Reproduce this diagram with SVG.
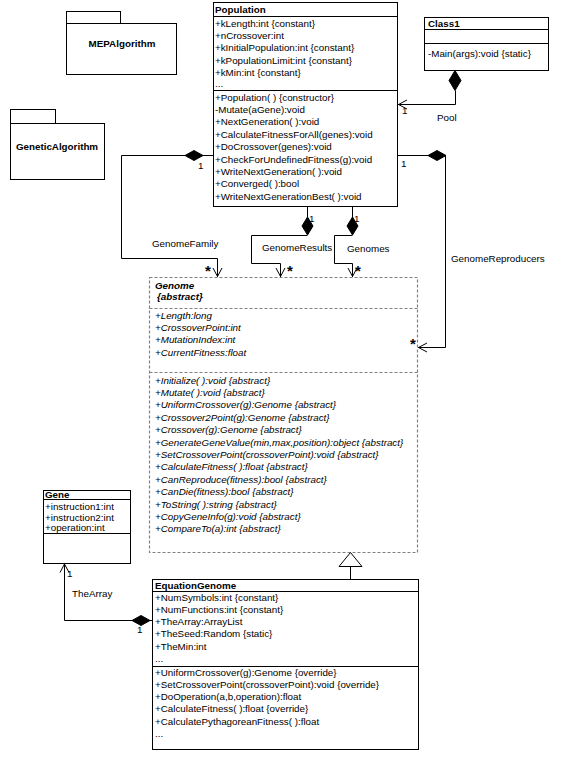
<svg xmlns="http://www.w3.org/2000/svg" width="576" height="758" viewBox="0 0 576 758">
<style>
.t{font-family:"Liberation Sans",Arial,sans-serif;font-size:9.8px;fill:#000}
.b{font-weight:bold}
.i{font-style:italic}
.box{fill:#fff;stroke:#000;stroke-width:1}
.ln{fill:none;stroke:#000;stroke-width:1}
.dash{fill:#fff;stroke:#808080;stroke-width:1.2;stroke-dasharray:3 2}
.dl{fill:none;stroke:#808080;stroke-width:1.2;stroke-dasharray:3 2}
.dia{fill:#000;stroke:#000;stroke-width:1}
.star{font-family:"Liberation Sans",Arial,sans-serif;font-size:15px;font-weight:bold;fill:#000}
</style>
<rect width="576" height="758" fill="#fff"/>

<g id="MEPAlgorithm">
<rect class="box" x="66.5" y="11.5" width="54" height="12"/>
<rect class="box" x="66.5" y="23.5" width="110" height="51"/>
<text class="t b" x="122" y="47" text-anchor="middle">MEPAlgorithm</text>
</g>

<g id="GeneticAlgorithm">
<rect class="box" x="10.5" y="109.5" width="45" height="14"/>
<rect class="box" x="10.5" y="123.5" width="94" height="56"/>
<text class="t b" x="57" y="150" text-anchor="middle">GeneticAlgorithm</text>
</g>

<g id="Population">
<rect class="box" x="213.5" y="2.5" width="184" height="204"/>
<line class="ln" x1="213.5" y1="16.5" x2="397.5" y2="16.5"/>
<line class="ln" x1="213.5" y1="90.5" x2="397.5" y2="90.5"/>
<text class="t b" x="215" y="13">Population</text>
<text class="t" x="215" y="27">+kLength:int {constant}</text>
<text class="t" x="215" y="39.2">+nCrossover:int</text>
<text class="t" x="215" y="51.4">+kInitialPopulation:int {constant}</text>
<text class="t" x="215" y="63.6">+kPopulationLimit:int {constant}</text>
<text class="t" x="215" y="75.8">+kMin:int {constant}</text>
<text class="t" x="215" y="87">...</text>
<text class="t" x="215" y="100.5">+Population( ) {constructor}</text>
<text class="t" x="215" y="112.9">-Mutate(aGene):void</text>
<text class="t" x="215" y="125.3">+NextGeneration( ):void</text>
<text class="t" x="215" y="137.7">+CalculateFitnessForAll(genes):void</text>
<text class="t" x="215" y="150.1">+DoCrossover(genes):void</text>
<text class="t" x="215" y="162.5">+CheckForUndefinedFitness(g):void</text>
<text class="t" x="215" y="174.9">+WriteNextGeneration( ):void</text>
<text class="t" x="215" y="187.3">+Converged( ):bool</text>
<text class="t" x="215" y="199.7">+WriteNextGenerationBest( ):void</text>
</g>

<g id="Class1">
<rect class="box" x="424.5" y="17.5" width="124" height="53"/>
<line class="ln" x1="424.5" y1="29.5" x2="548.5" y2="29.5"/>
<line class="ln" x1="424.5" y1="43.5" x2="548.5" y2="43.5"/>
<text class="t b" x="428" y="27">Class1</text>
<text class="t" x="428" y="56.5">-Main(args):void {static}</text>
</g>

<g id="Genome">
<rect class="dash" x="149.5" y="277.5" width="268" height="275"/>
<line class="dl" x1="149.5" y1="308.5" x2="417.5" y2="308.5"/>
<line class="dl" x1="149.5" y1="372.5" x2="417.5" y2="372.5"/>
<text class="t b i" x="155" y="288.5">Genome</text>
<text class="t b i" x="157" y="299.5">{abstract}</text>
<text class="t i" x="155" y="318.5">+Length:long</text>
<text class="t i" x="155" y="330.9">+CrossoverPoint:int</text>
<text class="t i" x="155" y="343.3">+MutationIndex:int</text>
<text class="t i" x="155" y="355.7">+CurrentFitness:float</text>
<text class="t i" x="155" y="383.5">+Initialize( ):void {abstract}</text>
<text class="t i" x="155" y="395.9">+Mutate( ):void {abstract}</text>
<text class="t i" x="155" y="408.3">+UniformCrossover(g):Genome {abstract}</text>
<text class="t i" x="155" y="420.7">+Crossover2Point(g):Genome {abstract}</text>
<text class="t i" x="155" y="433.1">+Crossover(g):Genome {abstract}</text>
<text class="t i" x="155" y="445.5">+GenerateGeneValue(min,max,position):object {abstract}</text>
<text class="t i" x="155" y="457.9">+SetCrossoverPoint(crossoverPoint):void {abstract}</text>
<text class="t i" x="155" y="470.3">+CalculateFitness( ):float {abstract}</text>
<text class="t i" x="155" y="482.7">+CanReproduce(fitness):bool {abstract}</text>
<text class="t i" x="155" y="495.1">+CanDie(fitness):bool {abstract}</text>
<text class="t i" x="155" y="507.5">+ToString( ):string {abstract}</text>
<text class="t i" x="155" y="519.9">+CopyGeneInfo(g):void {abstract}</text>
<text class="t i" x="155" y="532.3">+CompareTo(a):int {abstract}</text>
</g>

<g id="Gene">
<rect class="box" x="43.5" y="490.5" width="87" height="73"/>
<line class="ln" x1="43.5" y1="499.5" x2="130.5" y2="499.5"/>
<line class="ln" x1="43.5" y1="533.5" x2="130.5" y2="533.5"/>
<text class="t b" x="45" y="498">Gene</text>
<text class="t" x="45" y="509.5">+instruction1:int</text>
<text class="t" x="45" y="520.5">+instruction2:int</text>
<text class="t" x="45" y="531">+operation:int</text>
</g>

<g id="EquationGenome">
<rect class="box" x="152.5" y="579.5" width="266" height="170"/>
<line class="ln" x1="152.5" y1="591.5" x2="418.5" y2="591.5"/>
<line class="ln" x1="152.5" y1="666.5" x2="418.5" y2="666.5"/>
<text class="t b" x="155" y="589">EquationGenome</text>
<text class="t" x="155" y="600.5">+NumSymbols:int {constant}</text>
<text class="t" x="155" y="612.8">+NumFunctions:int {constant}</text>
<text class="t" x="155" y="625.1">+TheArray:ArrayList</text>
<text class="t" x="155" y="637.4">+TheSeed:Random {static}</text>
<text class="t" x="155" y="649.7">+TheMin:int</text>
<text class="t" x="155" y="662">...</text>
<text class="t" x="155" y="675.5">+UniformCrossover(g):Genome {override}</text>
<text class="t" x="155" y="687.8">+SetCrossoverPoint(crossoverPoint):void {override}</text>
<text class="t" x="155" y="700.1">+DoOperation(a,b,operation):float</text>
<text class="t" x="155" y="712.4">+CalculateFitness( ):float {override}</text>
<text class="t" x="155" y="724.7">+CalculatePythagoreanFitness( ):float</text>
<text class="t" x="155" y="737">...</text>
</g>

<g id="connectors">
<!-- Pool -->
<polygon class="dia" points="455,70.5 461,80.5 455,90.5 449,80.5"/>
<polyline class="ln" points="455.5,90.5 455.5,104.5 398,104.5"/>
<polyline class="ln" points="407,100 398.5,104.5 407,109"/>
<text class="t" x="402" y="114">1</text>
<text class="t" x="437" y="121">Pool</text>

<!-- GenomeReproducers -->
<polyline class="ln" points="398,155.5 428,155.5"/>
<polygon class="dia" points="428,155.5 437,150.5 446,155.5 437,160.5"/>
<polyline class="ln" points="445.5,155.5 445.5,347.5 418,347.5"/>
<polyline class="ln" points="427,343 418.5,347.5 427,352"/>
<text class="t" x="401" y="166.5">1</text>
<text class="star" x="413" y="349" text-anchor="middle">*</text>
<text class="t" x="451" y="261.5">GenomeReproducers</text>

<!-- GenomeFamily -->
<polyline class="ln" points="213,155.5 203,155.5"/>
<polygon class="dia" points="185,155.5 194,150.5 203,155.5 194,160.5"/>
<polyline class="ln" points="185,155.5 121.5,155.5 121.5,258.5 217.5,258.5 217.5,277"/>
<polyline class="ln" points="213,268 217.5,276.5 222,268"/>
<text class="t" x="198" y="168.5">1</text>
<text class="star" x="208" y="276" text-anchor="middle">*</text>
<text class="t" x="152" y="246.5">GenomeFamily</text>

<!-- GenomeResults -->
<polyline class="ln" points="307.5,207 307.5,217"/>
<polygon class="dia" points="307.5,217 313,226 307.5,235 302,226"/>
<polyline class="ln" points="307.5,235.5 251.5,235.5 251.5,263.5 280.5,263.5 280.5,277"/>
<polyline class="ln" points="276,268 280.5,276.5 285,268"/>
<text class="t" x="309" y="222">1</text>
<text class="star" x="290" y="276" text-anchor="middle">*</text>
<text class="t" x="262" y="250.5">GenomeResults</text>

<!-- Genomes -->
<polyline class="ln" points="352.5,207 352.5,217"/>
<polygon class="dia" points="352.5,217 358,226 352.5,235 347,226"/>
<polyline class="ln" points="352.5,235.5 334.5,235.5 334.5,263.5 352.5,263.5 352.5,277"/>
<polyline class="ln" points="348,268 352.5,276.5 357,268"/>
<text class="t" x="354" y="222">1</text>
<text class="star" x="358" y="276" text-anchor="middle">*</text>
<text class="t" x="347" y="251.5">Genomes</text>

<!-- TheArray -->
<polyline class="ln" points="152,620.5 150,620.5"/>
<polygon class="dia" points="132,620.5 141,615.5 150,620.5 141,625.5"/>
<polyline class="ln" points="132,620.5 64.5,620.5 64.5,564"/>
<polyline class="ln" points="60,572.5 64.5,564 69,572.5"/>
<text class="t" x="67" y="577">1</text>
<text class="t" x="137" y="633">1</text>
<text class="t" x="72" y="596.5">TheArray</text>

<!-- Generalization -->
<polygon points="350.5,552.5 339,566.5 362,566.5" fill="#fff" stroke="#000" stroke-width="1"/>
<line class="ln" x1="350.5" y1="566.5" x2="350.5" y2="579.5"/>
</g>
</svg>
